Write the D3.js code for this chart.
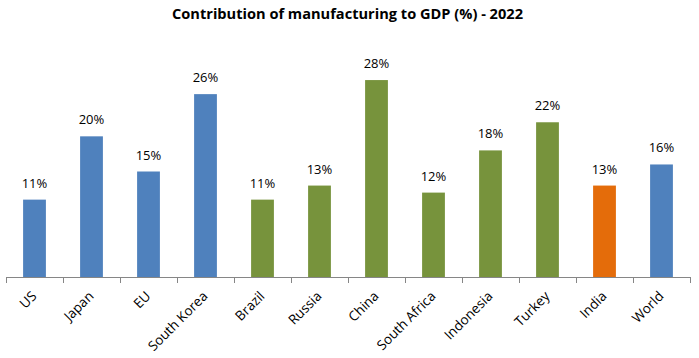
<!DOCTYPE html>
<html>
<head>
<meta charset="utf-8">
<script src="https://cdn.jsdelivr.net/npm/d3@7"></script>
<style>
  html, body { margin: 0; padding: 0; background: #fff; }
  svg { display: block; }
</style>
</head>
<body>
<script>
const categories = ["US", "Japan", "EU", "South Korea", "Brazil", "Russia", "China", "South Africa", "Indonesia", "Turkey", "India", "World"];
const values = [11, 20, 15, 26, 11, 13, 28, 12, 18, 22, 13, 16];
const groups = ["dev", "dev", "dev", "dev", "emg", "emg", "emg", "emg", "emg", "emg", "ind", "dev"];
const title = "Contribution of manufacturing to GDP (%) - 2022";

const W = 699, H = 358;
const colors = { dev: "#4F81BD", emg: "#77933C", ind: "#E46C0A" };

const svg = d3.select("body").append("svg").attr("width", W).attr("height", H);

const x = d3.scaleBand().domain(categories).range([6, 690]).paddingInner(0.6).paddingOuter(0.3);
const y = d3.scaleLinear().domain([0, 30]).range([277, 66]);

// title
svg.append("text")
  .attr("x", 347.5).attr("y", 19)
  .attr("text-anchor", "middle")
  .attr("font-family", "'Open Sans', sans-serif")
  .attr("font-weight", "bold")
  .attr("font-size", 14)
  .attr("fill", "#000")
  .attr("textLength", 351)
  .attr("lengthAdjust", "spacingAndGlyphs")
  .text(title);

const data = categories.map((c, i) => ({ c, v: values[i], g: groups[i] }));

svg.selectAll("rect.bar").data(data).enter().append("rect")
  .attr("class", "bar")
  .attr("x", d => x(d.c))
  .attr("width", x.bandwidth())
  .attr("y", d => y(d.v))
  .attr("height", d => y(0) - y(d.v))
  .attr("fill", d => colors[d.g]);

svg.selectAll("text.lbl").data(data).enter().append("text")
  .attr("class", "lbl")
  .attr("x", d => x(d.c) + x.bandwidth() / 2)
  .attr("y", d => y(d.v) - 12)
  .attr("text-anchor", "middle")
  .attr("font-family", "'Open Sans', sans-serif")
  .attr("font-size", 13)
  .attr("fill", "#000")
  .text(d => d.v + "%");

// x axis
const step = x.step();
const axisG = svg.append("g");
axisG.append("line")
  .attr("x1", 6).attr("x2", 690)
  .attr("y1", 277.5).attr("y2", 277.5)
  .attr("stroke", "#868686").attr("stroke-width", 1);
const tickPos = d3.range(categories.length + 1).map(i => 6 + i * step);
axisG.selectAll("line.tick").data(tickPos).enter().append("line")
  .attr("class", "tick")
  .attr("x1", d => Math.round(d) + 0.5).attr("x2", d => Math.round(d) + 0.5)
  .attr("y1", 277).attr("y2", 283)
  .attr("stroke", "#868686").attr("stroke-width", 1);

axisG.selectAll("text.xl").data(categories).enter().append("text")
  .attr("class", "xl")
  .attr("transform", d => `translate(${x(d) + x.bandwidth() / 2 + 3},297) rotate(-45)`)
  .attr("text-anchor", "end")
  .attr("font-family", "'Open Sans', sans-serif")
  .attr("font-size", 13.5)
  .attr("fill", "#000")
  .text(d => d);
</script>
</body>
</html>
